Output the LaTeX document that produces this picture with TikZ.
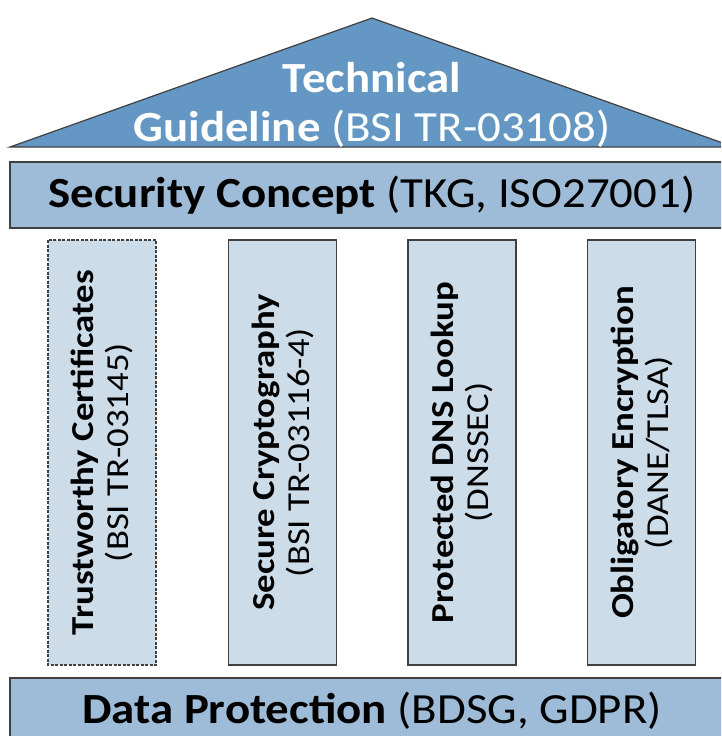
\documentclass[tikz,border=0pt]{standalone}
\usepackage{fontspec}
\setmainfont{Carlito}
\newfontfamily\beamfont[FakeStretch=1.09]{Carlito}
\newfontfamily\pillarfont[FakeStretch=1.15]{Carlito}
\definecolor{roofblue}{RGB}{100,151,196}
\definecolor{barblue}{RGB}{158,188,215}
\definecolor{pillarblue}{RGB}{204,220,232}
\tikzset{
  bar/.style={draw=black!75, line width=1.2pt, fill=barblue, minimum width=724pt, minimum height=66pt, inner sep=0pt, font=\beamfont\fontsize{43}{49}\selectfont},
  pillar/.style={draw=black!75, line width=1.2pt, fill=pillarblue, rotate=90, minimum width=425pt, minimum height=108pt, inner sep=0pt, align=center, font=\pillarfont\fontsize{32}{35}\selectfont}
}
\begin{document}
\begin{tikzpicture}[x=1pt,y=-1pt]
\clip (0,0) rectangle (721,736);
\fill[white] (0,0) rectangle (721,736);

% roof
\draw[draw=black!75, line width=1.2pt, fill=roofblue] (10,147) -- (372,18) -- (734,147) -- cycle;
\node[align=center, text=white, font=\beamfont\fontsize{43}{49}\selectfont] (roof) at (372,105) {\textbf{Technical}\\\textbf{Guideline} (BSI TR-03108)};

% beams
\node[bar] (concept) at (372,195) {\textbf{Security Concept} (TKG, ISO27001)};
\node[bar] (protection) at (372,711) {\textbf{Data Protection} (BDSG, GDPR)};

% pillars
\node[pillar, dashed, dash pattern=on 3pt off 1.5pt] (certs) at (102,452.5) {\textbf{Trustworthy Certificates}\\(BSI TR-03145)};
\node[pillar] (crypto) at (282.5,452.5) {\textbf{Secure Cryptography}\\(BSI TR-03116-4)};
\node[pillar] (dns) at (462,452.5) {\textbf{Protected DNS Lookup}\\(DNSSEC)};
\node[pillar] (encrypt) at (641.5,452.5) {\textbf{Obligatory Encryption}\\(DANE/TLSA)};
\end{tikzpicture}
\end{document}
